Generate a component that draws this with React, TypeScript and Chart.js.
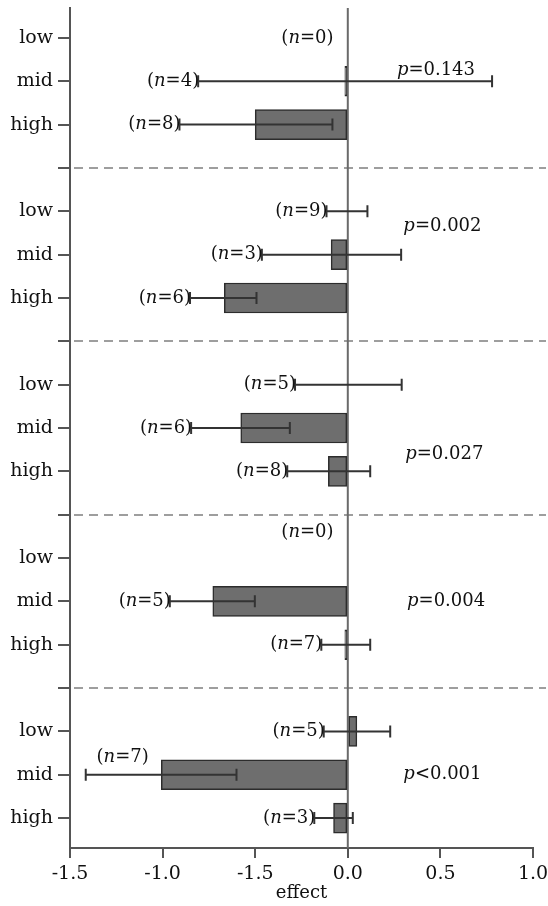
import React, { useEffect, useRef } from 'react';
import { Chart, registerables } from 'chart.js';
Chart.register(...registerables);

// ---------- data ----------
const rowLabels = ['low', 'mid', 'high', '', 'low', 'mid', 'high', '', 'low', 'mid', 'high', '', 'low', 'mid', 'high', '', 'low', 'mid', 'high'];
const means = [null, -0.016, -0.50, null, 0, -0.09, -0.667, null, 0, -0.578, -0.105, null, null, -0.729, -0.016, null, 0.049, -1.007, -0.077];
const errLow = [null, -0.808, -0.909, null, -0.115, -0.464, -0.852, null, -0.285, -0.846, -0.327, null, null, -0.961, -0.143, null, -0.130, -1.415, -0.181];
const errHigh = [null, 0.779, -0.083, null, 0.106, 0.288, -0.493, null, 0.291, -0.313, 0.121, null, null, -0.502, 0.121, null, 0.229, -0.601, 0.027];
const nCounts = [0, 4, 8, null, 9, 3, 6, null, 5, 6, 8, null, 0, 5, 7, null, 5, 7, 3];
const pOperators = ['=', '=', '=', '=', '<'];
const pNumbers = ['0.143', '0.002', '0.027', '0.004', '0.001'];
const xTickValues = [-1.5, -1.0, -0.5, 0, 0.5, 1.0];
const xTickLabels = ['-1.5', '-1.0', '-1.5', '0.0', '0.5', '1.0'];
const xAxisTitle = 'effect';

// ---------- layout / style ----------
const FONT = '"DejaVu Serif", "Liberation Serif", serif';
const spacerRows = [3, 7, 11, 15];
const pRows = [0.75, 4.35, 9.6, 13, 17];
const pXValues = [0.265, 0.3, 0.31, 0.32, 0.3];
const nLabelOverrides: Record<number, { x?: number; dy?: number }> = {
  0: { x: -0.077, dy: 0 },
  12: { x: -0.077, dy: -0.6 },
  17: { x: -1.075, dy: -0.4 },
};

const overlayPlugin = {
  id: 'overlay',
  beforeDatasetsDraw(chart: any) {
    const { ctx, chartArea } = chart;
    const xs = chart.scales.x;
    const ys = chart.scales.y;
    ctx.save();
    ctx.strokeStyle = '#9e9e9e';
    ctx.lineWidth = 2;
    ctx.setLineDash([9, 6]);
    spacerRows.forEach((r) => {
      const y = Math.round(ys.getPixelForValue(r));
      ctx.beginPath();
      ctx.moveTo(chartArea.left + 4, y);
      ctx.lineTo(chart.width - 2, y);
      ctx.stroke();
    });
    ctx.setLineDash([]);
    const x0 = xs.getPixelForValue(0);
    ctx.strokeStyle = '#6a6a6a';
    ctx.lineWidth = 2;
    ctx.beginPath();
    ctx.moveTo(x0, chartArea.top);
    ctx.lineTo(x0, chartArea.bottom);
    ctx.stroke();
    ctx.restore();
  },
  afterDatasetsDraw(chart: any) {
    const { ctx } = chart;
    const xs = chart.scales.x;
    const ys = chart.scales.y;
    ctx.save();
    ctx.strokeStyle = '#333';
    ctx.lineWidth = 2;
    errLow.forEach((lo, i) => {
      const hi = errHigh[i];
      if (lo === null || hi === null) return;
      const y = ys.getPixelForValue(i);
      const x1 = xs.getPixelForValue(lo);
      const x2 = xs.getPixelForValue(hi);
      ctx.beginPath();
      ctx.moveTo(x1, y);
      ctx.lineTo(x2, y);
      ctx.moveTo(x1, y - 6);
      ctx.lineTo(x1, y + 6);
      ctx.moveTo(x2, y - 6);
      ctx.lineTo(x2, y + 6);
      ctx.stroke();
    });
    const reg = `18px ${FONT}`;
    const ital = `italic 18px ${FONT}`;
    ctx.fillStyle = '#111';
    ctx.textBaseline = 'middle';
    ctx.textAlign = 'left';
    const drawRich = (parts: [string, string][], x: number, y: number, alignRight: boolean) => {
      let total = 0;
      parts.forEach(([t, f]) => { ctx.font = f; total += ctx.measureText(t).width; });
      let cx = alignRight ? x - total : x;
      parts.forEach(([t, f]) => { ctx.font = f; ctx.fillText(t, cx, y); cx += ctx.measureText(t).width; });
    };
    nCounts.forEach((n, i) => {
      if (n === null) return;
      const ov = nLabelOverrides[i] || {};
      const xv = ov.x !== undefined ? ov.x : (errLow[i] as number);
      const right = xs.getPixelForValue(xv) + (ov.x !== undefined ? 0 : 1);
      const y = ys.getPixelForValue(i + (ov.dy || 0));
      drawRich([['(', reg], ['n', ital], ['=' + n + ')', reg]], right, y, true);
    });
    pNumbers.forEach((num, g) => {
      const x = xs.getPixelForValue(pXValues[g]);
      const y = ys.getPixelForValue(pRows[g]);
      drawRich([['p', ital], [pOperators[g] + num, reg]], x, y, false);
    });
    ctx.restore();
  },
};

export default function App() {
  const ref = useRef<HTMLCanvasElement>(null);
  useEffect(() => {
    if (!ref.current) return;
    const points = means
      .map((m, i) => (m === null ? null : { x: m, y: i }))
      .filter((p) => p !== null);
    const chart = new Chart(ref.current, {
      type: 'bar',
      data: {
        datasets: [
          {
            data: points as any,
            backgroundColor: '#6e6e6e',
            borderColor: '#2c2c2c',
            borderWidth: 1.5,
            borderSkipped: false,
            barThickness: 30,
          },
        ],
      },
      options: {
        indexAxis: 'y',
        animation: false,
        responsive: false,
        layout: { padding: { top: 8, right: 15, bottom: 0, left: 0 } },
        plugins: { legend: { display: false }, tooltip: { enabled: false } },
        scales: {
          x: {
            type: 'linear',
            min: -1.5,
            max: 1.0,
            offset: false,
            afterBuildTicks: (s: any) => { s.ticks = xTickValues.map((v) => ({ value: v })); },
            afterFit: (s: any) => { s.height = 58; s.paddingLeft = 0; s.paddingRight = 0; },
            ticks: {
              autoSkip: false,
              maxRotation: 0,
              padding: 5,
              color: '#111',
              font: { family: FONT, size: 19 },
              callback: (_v: any, i: number) => xTickLabels[i],
            },
            grid: { offset: false, drawOnChartArea: false, drawTicks: true, tickLength: 10, tickColor: '#555', tickWidth: 2, lineWidth: 2 },
            border: { display: true, color: '#555', width: 2 },
            title: {
              display: true,
              text: xAxisTitle,
              color: '#111',
              font: { family: FONT, size: 18 },
              padding: { top: 0, bottom: 2 },
            },
          },
          y: {
            type: 'linear',
            reverse: true,
            min: -0.69,
            max: 18.69,
            offset: false,
            afterBuildTicks: (s: any) => { s.ticks = rowLabels.map((_l, i) => ({ value: i })); },
            afterFit: (s: any) => { s.width = 70; s.paddingTop = 0; s.paddingBottom = 0; },
            ticks: {
              autoSkip: false,
              padding: 5,
              color: '#111',
              font: { family: FONT, size: 19 },
              callback: (v: any) => rowLabels[Math.round(Number(v))] ?? '',
            },
            grid: { offset: false, drawOnChartArea: false, drawTicks: true, tickLength: 12, tickColor: '#555', tickWidth: 2, lineWidth: 2 },
            border: { display: true, color: '#555', width: 2 },
          },
        },
      } as any,
      plugins: [overlayPlugin],
    });
    return () => chart.destroy();
  }, []);
  return (
    <div style={{ position: 'absolute', left: 0, top: 0, width: 548, height: 906, background: '#fff' }}>
      <canvas ref={ref} width={548} height={906} style={{ display: 'block' }} />
    </div>
  );
}
